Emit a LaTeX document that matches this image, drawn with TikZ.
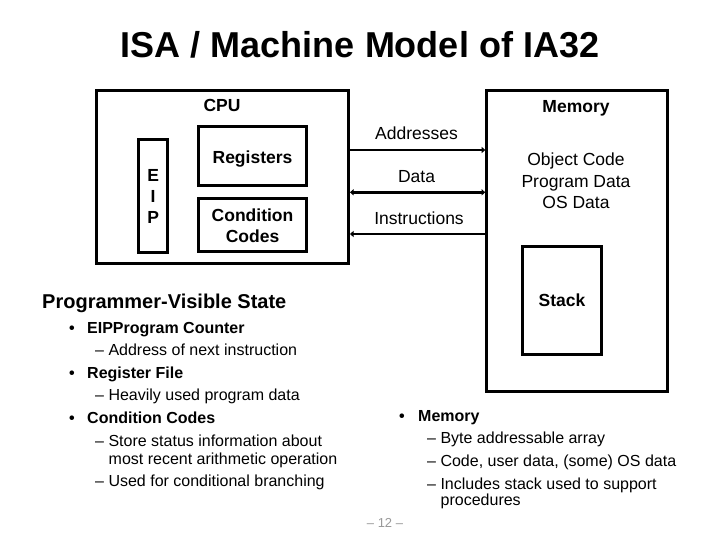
\documentclass[tikz,border=0pt]{standalone}
\usepackage{fontspec}
\setmainfont{Liberation Sans}
\usetikzlibrary{arrows.meta}
\begin{document}
\begin{tikzpicture}[x=1pt,y=-1pt,
  >={Triangle[length=3.5pt,width=6pt]},
  box/.style={draw, line width=3pt, inner sep=0pt},
  blbl/.style={font=\fontsize{17.5}{21}\selectfont\bfseries, inner sep=0pt, anchor=base},
  rlbl/.style={font=\fontsize{17.5}{21}\selectfont, inner sep=0pt, anchor=base},
  titlestyle/.style={font=\fontsize{36}{40}\selectfont\bfseries, inner sep=0pt, anchor=base},
  headstyle/.style={font=\fontsize{20}{24}\selectfont\bfseries, inner sep=0pt, anchor=base west},
  bul/.style={font=\fontsize{16}{19}\selectfont\bfseries, inner sep=0pt, anchor=base west},
  dotstyle/.style={font=\fontsize{16}{19}\selectfont\bfseries, inner sep=0pt, anchor=base},
  subitem/.style={font=\fontsize{16}{19}\selectfont, inner sep=0pt, anchor=base west},
  bus/.style={line width=2.7pt}
]
\fill[white] (0,0) rectangle (720,540);
\useasboundingbox (0,0) rectangle (720,540);

% title
\node[titlestyle] (title) at (360,58) {ISA / Machine Model of IA32};

% CPU
\node[box, minimum width=252pt, minimum height=172.5pt] (cpu) at (222.5,177.25) {};
\node[blbl] (cpulbl) at (222,111.3) {CPU};
\node[box, minimum width=29.2pt, minimum height=113.3pt] (eip) at (153.1,195.7) {};
\node[blbl] (eipE) at (153.1,181.7) {E};
\node[blbl] (eipI) at (153.1,203) {I};
\node[blbl] (eipP) at (153.1,223.5) {P};
\node[box, minimum width=108.4pt, minimum height=59pt] (reg) at (252.5,156.2) {};
\node[blbl] (reglbl) at (252.5,163.3) {Registers};
\node[box, minimum width=108.4pt, minimum height=53.4pt] (cc) at (252.5,225) {};
\node[blbl] (cclbl1) at (252.5,221.7) {Condition};
\node[blbl] (cclbl2) at (252.5,242.3) {Codes};

% Memory
\node[box, minimum width=181pt, minimum height=300.7pt] (mem) at (577.2,241.3) {};
\node[blbl] (memlbl) at (576,112.3) {Memory};
\node[rlbl] (obj1) at (576,166) {Object Code};
\node[rlbl] (obj2) at (576,187.3) {Program Data};
\node[rlbl] (obj3) at (576,208.6) {OS Data};
\node[box, minimum width=79.4pt, minimum height=107.6pt] (stack) at (562,300.5) {};
\node[blbl] (stacklbl) at (562,306.7) {Stack};

% buses
\coordinate (ya) at (0,150);
\coordinate (yd) at (0,192.3);
\coordinate (yi) at (0,234);
\draw[bus,->] (cpu.east |- ya) -- (mem.west |- ya);
\draw[bus,<->] (cpu.east |- yd) -- (mem.west |- yd);
\draw[bus,<-] (cpu.east |- yi) -- (mem.west |- yi);
\node[rlbl] (addrlbl) at (416.5,139.3) {Addresses};
\node[rlbl] (datalbl) at (416.5,182.3) {Data};
\node[rlbl] (instrlbl) at (419,224.3) {Instructions};

% programmer-visible state
\node[headstyle] (pvs) at (42,308.3) {Programmer-Visible State};
\node[dotstyle] (d1) at (72,333) {•};
\node[bul] (b1) at (87,333) {EIPProgram Counter};
\node[subitem] (s1) at (95,355) {– Address of next instruction};
\node[dotstyle] (d2) at (72,378) {•};
\node[bul] (b2) at (87,378) {Register File};
\node[subitem] (s2) at (95,400) {– Heavily used program data};
\node[dotstyle] (d3) at (72,423.3) {•};
\node[bul] (b3) at (87,423.3) {Condition Codes};
\node[subitem] (s3a) at (95,446.5) {– Store status information about};
\node[subitem] (s3b) at (108.5,464.3) {most recent arithmetic operation};
\node[subitem] (s4) at (95,486.7) {– Used for conditional branching};

% memory bullets
\node[dotstyle] (d4) at (402,421) {•};
\node[bul] (b4) at (418,421) {Memory};
\node[subitem] (m1) at (427,443.3) {– Byte addressable array};
\node[subitem] (m2) at (427,466) {– Code, user data, (some) OS data};
\node[subitem] (m3) at (427,489) {– Includes stack used to support};
\node[subitem] (m3b) at (440.5,505) {procedures};

% page number
\node[font=\fontsize{13}{15}\selectfont, text=black!40, inner sep=0pt, anchor=base] (pg) at (385,527.7) {– 12 –};
\end{tikzpicture}
\end{document}
